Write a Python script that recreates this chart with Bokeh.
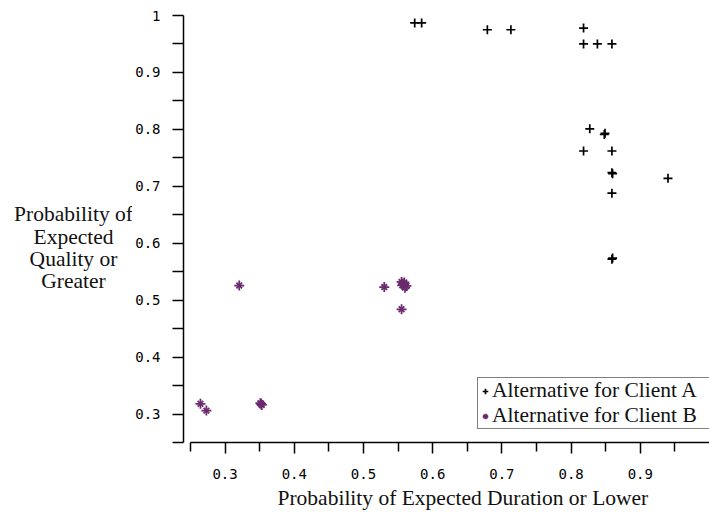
from bokeh.plotting import figure
from bokeh.layouts import row
from bokeh.models import (Range1d, FixedTicker, CustomJSTickFormatter, Legend, LegendItem,
                          Title, Label, ColumnDataSource)
from bokeh.embed import file_html
from bokeh.resources import INLINE

# ---- data ----
a_x = [0.574, 0.584, 0.679, 0.713, 0.818, 0.818, 0.838, 0.859, 0.827, 0.848, 0.849,
       0.818, 0.859, 0.859, 0.860, 0.940, 0.859, 0.859, 0.860]
a_y = [0.987, 0.987, 0.975, 0.975, 0.978, 0.950, 0.950, 0.950, 0.801, 0.791, 0.793,
       0.762, 0.762, 0.724, 0.722, 0.714, 0.688, 0.572, 0.574]

b_x = [0.3205, 0.530, 0.555, 0.557, 0.559, 0.562, 0.560, 0.556, 0.555,
       0.2644, 0.273, 0.352, 0.353, 0.351]
b_y = [0.5257, 0.523, 0.532, 0.529, 0.531, 0.525, 0.522, 0.526, 0.484,
       0.318, 0.306, 0.318, 0.316, 0.319]

x_ticks = [0.3, 0.4, 0.5, 0.6, 0.7, 0.8, 0.9]
x_minor = [0.25, 0.35, 0.45, 0.55, 0.65, 0.75, 0.85, 0.95]
y_ticks = [0.3, 0.4, 0.5, 0.6, 0.7, 0.8, 0.9, 1.0]
y_minor = [0.25, 0.35, 0.45, 0.55, 0.65, 0.75, 0.85, 0.95]

label_a = "Alternative for Client A"
label_b = "Alternative for Client B"
x_title = "Probability of Expected Duration or Lower"
y_title_lines = ["Probability of", "Expected", "Quality or", "Greater"]

purple = "#6b2a6f"
serif = "Liberation Serif"
mono = "DejaVu Sans Mono"
text_col = "#111111"

# ---- narrow side figure holding the horizontal y-axis title ----
TW, H = 132, 512
pt = figure(width=TW, height=H, output_backend="svg", toolbar_location=None,
            x_range=Range1d(0, TW), y_range=Range1d(0, H),
            x_axis_type=None, y_axis_type=None, min_border=0)
pt.outline_line_color = None
pt.grid.visible = False
pt.add_layout(Label(x=73, y=233.5, text="\n".join(y_title_lines),
                    text_align="center", text_baseline="middle",
                    text_font=serif, text_font_size="21.5px", text_color=text_col,
                    text_line_height=0.927))

# ---- main scatter ----
p = figure(width=709 - TW, height=H, output_backend="svg", toolbar_location=None,
           x_range=Range1d(0.2399, 1.0), y_range=Range1d(0.25, 1.0),
           min_border_left=181 - TW, min_border_right=0, min_border_top=15, min_border_bottom=69)
p.outline_line_color = None
p.grid.visible = False
p.background_fill_color = "white"
p.border_fill_color = "white"

src_a = ColumnDataSource(dict(x=a_x, y=a_y))
src_b = ColumnDataSource(dict(x=b_x, y=b_y))
ra = p.scatter("x", "y", source=src_a, marker="cross", size=9, line_color="black", line_width=1.7)
rb1 = p.scatter("x", "y", source=src_b, marker="cross", size=10, line_color=purple, line_width=1.8)
rb2 = p.scatter("x", "y", source=src_b, marker="x", size=8, line_color=purple, line_width=1.8)

fmt = CustomJSTickFormatter(code="return String(Math.round(tick*100)/100);")

for ax, ticks, minor in ((p.xaxis[0], x_ticks, x_minor), (p.yaxis[0], y_ticks, y_minor)):
    ax.ticker = FixedTicker(ticks=ticks, minor_ticks=minor)
    ax.formatter = fmt
    ax.bounds = (0.25, 1.0)
    ax.axis_line_width = 1.5
    ax.axis_line_color = "black"
    ax.major_tick_line_width = 1.5
    ax.minor_tick_line_width = 1.5
    ax.major_tick_line_color = "black"
    ax.minor_tick_line_color = "black"
    ax.major_tick_in = 0
    ax.minor_tick_in = 0
    ax.major_tick_out = 11
    ax.major_label_text_font = mono
    ax.major_label_text_font_size = "14px"
    ax.major_label_text_color = "black"

p.xaxis[0].minor_tick_out = 9
p.xaxis[0].major_label_standoff = 15
p.yaxis[0].minor_tick_out = 11
p.yaxis[0].major_label_standoff = 12

# x title as a Title below the axis
p.add_layout(Title(text=x_title, align="left", offset=94, standoff=5,
                   text_font=serif, text_font_size="21.5px", text_font_style="normal",
                   text_color=text_col), "below")

legend = Legend(items=[LegendItem(label=label_a, renderers=[ra]),
                       LegendItem(label=label_b, renderers=[rb1, rb2])],
                location=(294, 13), orientation="vertical",
                border_line_color="black", border_line_width=1, background_fill_alpha=1,
                label_text_font=serif, label_text_font_size="21.5px", label_text_color=text_col,
                padding=0, spacing=0, margin=0, glyph_width=14, glyph_height=20,
                label_height=20, label_standoff=0, label_width=222)
p.add_layout(legend)

layout = row(pt, p, spacing=0)
open("out.html", "w").write(file_html(layout, INLINE))
